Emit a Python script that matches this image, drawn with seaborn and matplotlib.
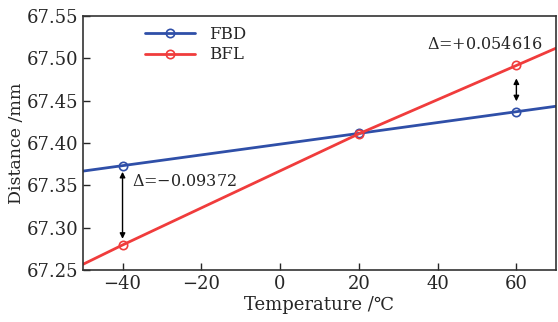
import matplotlib
matplotlib.use("Agg")
import matplotlib.pyplot as plt
import seaborn as sns
import pandas as pd

# values
temps = [-50, -40, 20, 60, 70]
fbd = [67.367, 67.3734, 67.4115, 67.4371, 67.4435]
bfl = [67.257, 67.2797, 67.411, 67.4917, 67.512]
marker_idx = [1, 2, 3]
x_ticks = [-40, -20, 0, 20, 40, 60]
y_ticks = [67.25, 67.30, 67.35, 67.40, 67.45, 67.50, 67.55]

sns.set_style("ticks")
plt.rcParams['font.family'] = ['DejaVu Serif', 'DejaVu Sans']
plt.rcParams['mathtext.fontset'] = 'custom'
plt.rcParams['mathtext.it'] = 'DejaVu Serif:italic'
plt.rcParams['mathtext.rm'] = 'DejaVu Serif'
plt.rcParams['xtick.direction'] = 'in'
plt.rcParams['ytick.direction'] = 'in'

df = pd.DataFrame({"Temperature": temps, "FBD": fbd, "BFL": bfl})

fig = plt.figure(figsize=(5.58, 3.22), dpi=100)
ax = fig.add_axes([0.149, 0.161, 0.847, 0.789])

sns.lineplot(data=df, x="Temperature", y="FBD", ax=ax, color="#2f4fa8", lw=2,
             marker="o", markevery=marker_idx, markersize=6, markerfacecolor="none",
             markeredgecolor="#2f4fa8", markeredgewidth=1.2, label="FBD")
sns.lineplot(data=df, x="Temperature", y="BFL", ax=ax, color="#f03c3c", lw=2,
             marker="o", markevery=marker_idx, markersize=6, markerfacecolor="none",
             markeredgecolor="#f03c3c", markeredgewidth=1.2, label="BFL")

# difference arrows
ax.annotate("", xy=(-40, bfl[1] + 0.004), xytext=(-40, fbd[1] - 0.004),
            arrowprops=dict(arrowstyle="<|-|>", color="black", lw=1, mutation_scale=8))
ax.annotate("", xy=(60, fbd[3] + 0.009), xytext=(60, bfl[3] - 0.012),
            arrowprops=dict(arrowstyle="<|-|>", color="black", lw=1, mutation_scale=8))
ax.text(-37.5, 67.355, r"$\mathit{\Delta}$=" + "\u22120.09372",
        fontsize=11.5, va="center", ha="left")
ax.text(52, 67.517, r"$\mathit{\Delta}$=+0.054616", fontsize=11.5, va="center", ha="center")

ax.set_xlim(-50, 70)
ax.set_ylim(67.25, 67.55)
ax.set_xticks(x_ticks)
ax.set_yticks(y_ticks)
ax.set_xticklabels([str(t).replace("-", "\u2212") for t in x_ticks])
ax.set_yticklabels([f"{v:.2f}" for v in y_ticks])
ax.tick_params(labelsize=13, length=5, width=1)
ax.set_xlabel("Temperature /\u2103", fontsize=13, labelpad=2)
ax.set_ylabel("Distance /mm", fontsize=12.5, labelpad=1)
for s in ax.spines.values():
    s.set_linewidth(1.2)
    s.set_color("#333333")

ax.legend(loc="upper left", bbox_to_anchor=(0.1, 1.02), frameon=False, fontsize=12,
          handlelength=3, labelspacing=0.2)

fig.savefig("out.png", dpi=100)
